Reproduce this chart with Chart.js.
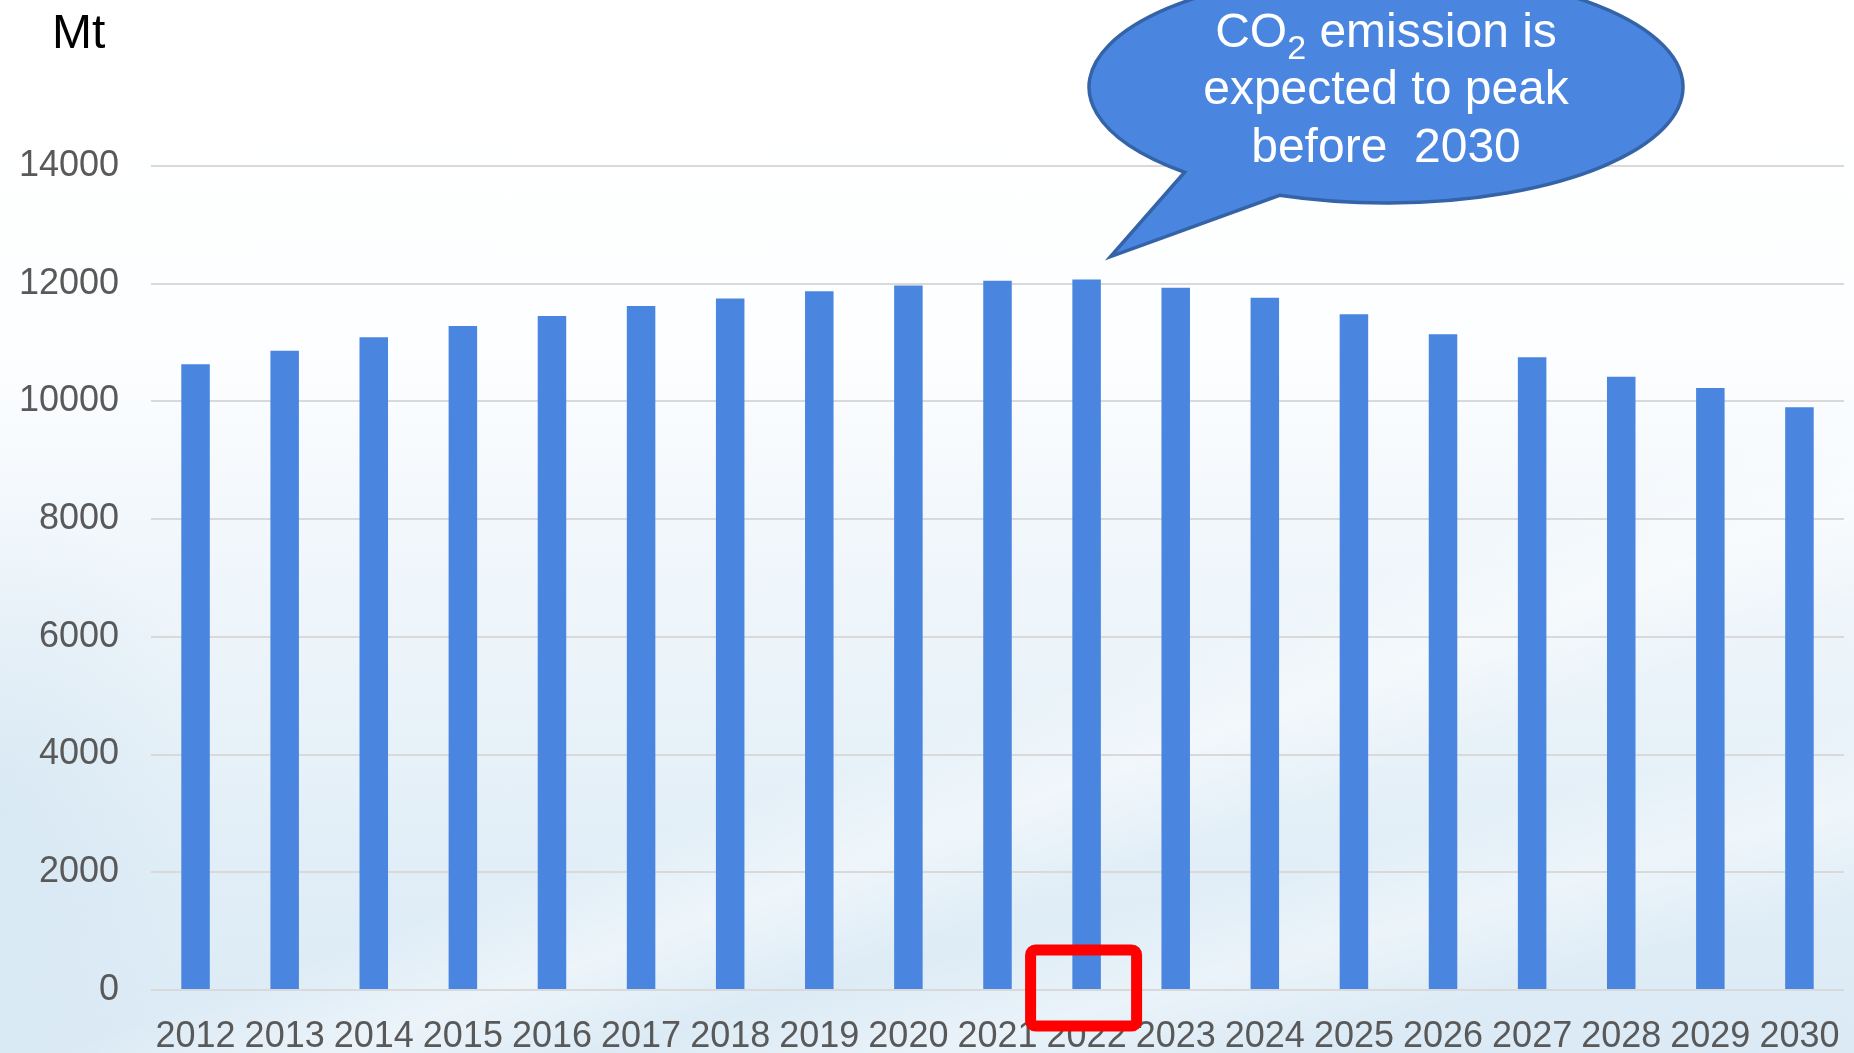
<!DOCTYPE html>
<html>
<head>
<meta charset="utf-8">
<title>CO2 emission</title>
<script src="https://cdn.jsdelivr.net/npm/chart.js@4.4.1/dist/chart.umd.min.js"></script>
<style>
html, body { margin: 0; padding: 0; }
body {
    width: 1854px;
    height: 1053px;
    overflow: hidden;
    background:
        linear-gradient(160deg, rgba(255,255,255,0) 62%, rgba(255,255,255,0.45) 68%, rgba(255,255,255,0) 74%),
        linear-gradient(165deg, rgba(255,255,255,0) 78%, rgba(255,255,255,0.4) 84%, rgba(255,255,255,0) 90%),
        radial-gradient(ellipse 220px 300px at 0% 76%, rgba(200, 222, 238, 0.4), rgba(200, 222, 238, 0) 100%),
        linear-gradient(to bottom, #ffffff 0%, #fdfeff 33%, #f3f8fc 48%, #eaf3f9 65%, #e1eef7 82%, #dbeaf5 100%);
}
#wrap { position: relative; width: 1854px; height: 1053px; }
</style>
</head>
<body>
<div id="wrap"><canvas id="emissionChart"></canvas></div>
<script>
// Annual emissions (Mt), actual and projected
const years = ['2012', '2013', '2014', '2015', '2016', '2017', '2018', '2019', '2020', '2021',
               '2022', '2023', '2024', '2025', '2026', '2027', '2028', '2029', '2030'];
const emissions = [10630, 10860, 11090, 11280, 11450, 11620, 11750, 11870, 11970, 12050,
                   12070, 11930, 11760, 11480, 11140, 10750, 10420, 10230, 9900];
const yTicks = [0, 2000, 4000, 6000, 8000, 10000, 12000, 14000];

const unitLabel = 'Mt';
const calloutLines = [['CO', '2', ' emission is'], ['expected to peak'], ['before  2030']];
const highlightYear = '2022';

const FONT = "'Liberation Sans', Arial, sans-serif";
const barColor = '#4a86e0';

// Speech bubble, red highlight box and unit label
const annotations = {
    id: 'annotations',
    afterDraw(chart) {
        const ctx = chart.ctx;
        const xs = chart.scales.x;
        const ys = chart.scales.y;
        const idx = years.indexOf(highlightYear);
        const bar = chart.getDatasetMeta(0).data[idx];

        ctx.save();

        // unit label
        ctx.fillStyle = '#000000';
        ctx.font = '48px ' + FONT;
        ctx.textAlign = 'left';
        ctx.textBaseline = 'alphabetic';
        ctx.fillText(unitLabel, 52, 48);

        // bubble
        const cx = 1386, cy = 87, rx = 297, ry = 116;
        const a1 = 132.7 * Math.PI / 180;
        const a2 = 111 * Math.PI / 180;
        const tipX = bar.x + 24, tipY = bar.y - 23;
        ctx.beginPath();
        ctx.moveTo(cx + rx * Math.cos(a1), cy + ry * Math.sin(a1));
        ctx.lineTo(tipX, tipY);
        ctx.lineTo(cx + rx * Math.cos(a2), cy + ry * Math.sin(a2));
        ctx.ellipse(cx, cy, rx, ry, 0, a2, a1, true);
        ctx.closePath();
        ctx.fillStyle = '#4a86e0';
        ctx.fill();
        ctx.lineWidth = 3.5;
        ctx.lineJoin = 'miter';
        ctx.strokeStyle = '#3563a8';
        ctx.stroke();

        // bubble text
        ctx.fillStyle = '#ffffff';
        const baselines = [47, 104, 162];
        calloutLines.forEach((parts, i) => {
            const fonts = parts.length === 3
                ? ['48px ' + FONT, '34px ' + FONT, '48px ' + FONT]
                : ['48px ' + FONT];
            const drops = parts.length === 3 ? [0, 12, 0] : [0];
            let total = 0;
            const widths = parts.map((p, j) => {
                ctx.font = fonts[j];
                const w = ctx.measureText(p).width;
                total += w;
                return w;
            });
            let x = cx - total / 2;
            parts.forEach((p, j) => {
                ctx.font = fonts[j];
                ctx.fillText(p, x, baselines[i] + drops[j]);
                x += widths[j];
            });
        });

        // red box around the highlighted category label
        const bx = xs.getPixelForTick(idx);
        const base = ys.getPixelForValue(0);
        ctx.beginPath();
        ctx.roundRect(bx - 56, base - 40, 106, 76, 5);
        ctx.lineWidth = 11;
        ctx.strokeStyle = '#ff0000';
        ctx.stroke();

        ctx.restore();
    }
};

const ctx = document.getElementById('emissionChart').getContext('2d');
const chart = new Chart(ctx, {
    type: 'bar',
    data: {
        labels: years,
        datasets: [{
            label: 'CO2 emission',
            data: emissions,
            backgroundColor: barColor,
            borderWidth: 0,
            barPercentage: 0.32,
            categoryPercentage: 1.0
        }]
    },
    options: {
        responsive: true,
        maintainAspectRatio: false,
        animation: false,
        layout: {
            padding: { top: 166, right: 10, left: 0, bottom: 0 }
        },
        plugins: {
            legend: { display: false },
            tooltip: { enabled: false }
        },
        scales: {
            x: {
                grid: { display: false, drawTicks: false },
                border: { display: false },
                ticks: {
                    autoSkip: false,
                    maxRotation: 0,
                    minRotation: 0,
                    padding: 25,
                    color: '#595959',
                    font: { family: FONT, size: 36 }
                },
                afterFit(scale) {
                    scale.height = 63;
                    scale.paddingLeft = 0;
                    scale.paddingRight = 0;
                }
            },
            y: {
                min: 0,
                max: 14000,
                afterBuildTicks(scale) {
                    scale.ticks = yTicks.map(v => ({ value: v }));
                },
                grid: {
                    color: '#d9d9d9',
                    lineWidth: 2,
                    drawTicks: false
                },
                border: { display: false },
                ticks: {
                    padding: 32,
                    color: '#595959',
                    font: { family: FONT, size: 36 },
                    callback: (v) => String(v)
                },
                afterFit(scale) { scale.width = 151; }
            }
        }
    },
    plugins: [annotations]
});
</script>
</body>
</html>
